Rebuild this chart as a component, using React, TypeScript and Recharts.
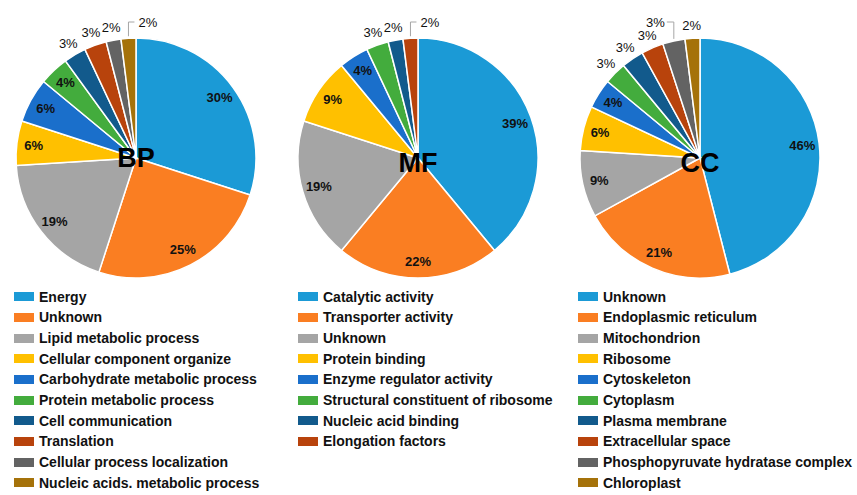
import React from 'react';
import { PieChart, Pie, Cell, Legend } from 'recharts';

const COLORS = ['#1B9AD6', '#FA7E22', '#A5A5A5', '#FFC000', '#1A6FCB', '#43AC3D', '#125A8C', '#B8430C', '#636363', '#A5720A'];

const bpNames = [
  'Energy', 'Unknown', 'Lipid metabolic process', 'Cellular component organize', 'Carbohydrate metabolic process',
  'Protein metabolic process', 'Cell communication', 'Translation', 'Cellular process localization', 'Nucleic acids. metabolic process',
];
const bpValues = [30, 25, 19, 6, 6, 4, 3, 3, 2, 2];

const mfNames = [
  'Catalytic activity', 'Transporter activity', 'Unknown', 'Protein binding', 'Enzyme regulator activity',
  'Structural constituent of ribosome', 'Nucleic acid binding', 'Elongation factors',
];
const mfValues = [39, 22, 19, 9, 4, 3, 2, 2];

const ccNames = [
  'Unknown', 'Endoplasmic reticulum', 'Mitochondrion', 'Ribosome', 'Cytoskeleton', 'Cytoplasm',
  'Plasma membrane', 'Extracellular space', 'Phosphopyruvate hydratase complex', 'Chloroplast',
];
const ccValues = [46, 21, 9, 6, 4, 3, 3, 3, 3, 2];

const FONT = '"Liberation Sans", Arial, sans-serif';
const RAD = Math.PI / 180;
const CY = 158;

// label renderer: big slices inside, small ones outside, one slice per pie gets a leader line
const makeLabel = (calloutIndex: number, dir: 'left' | 'right') => (props: any) => {
  const { cx, cy, midAngle, outerRadius, value, index } = props;
  const cos = Math.cos(-midAngle * RAD);
  const sin = Math.sin(-midAngle * RAD);
  if (index === calloutIndex) {
    const sx = cx + outerRadius * cos;
    const sy = cy + outerRadius * sin;
    const topY = cy - outerRadius - 16;
    const ex = dir === 'right' ? sx + 6 : sx - 7;
    return (
      <g>
        <polyline points={`${sx},${sy - 2} ${sx},${topY} ${ex},${topY}`} fill="none" stroke="#A6A6A6" strokeWidth={1} />
        <text x={dir === 'right' ? ex + 4 : ex - 2} y={topY} textAnchor={dir === 'right' ? 'start' : 'end'}
          dominantBaseline="central" fontSize={13} fontFamily={FONT} fill="#111">{`${value}%`}</text>
      </g>
    );
  }
  const inside = value >= 4;
  const r = inside ? outerRadius * 0.86 : outerRadius + 13;
  return (
    <text x={cx + r * cos} y={cy + r * sin} textAnchor="middle" dominantBaseline="central"
      fontSize={13} fontWeight={inside ? 'bold' : 'normal'} fontFamily={FONT} fill="#111">{`${value}%`}</text>
  );
};

const LegendRows = ({ names }: { names: string[] }) => (
  <div style={{ fontFamily: FONT }}>
    {names.map((n, i) => (
      <div key={n} style={{ display: 'flex', alignItems: 'center', height: 20.67 }}>
        <span style={{ width: 20, height: 9, background: COLORS[i], marginRight: 5, flexShrink: 0 }} />
        <span style={{ fontSize: 14, fontWeight: 'bold', color: '#111', whiteSpace: 'nowrap' }}>{n}</span>
      </div>
    ))}
  </div>
);

type PanelProps = {
  title: string; names: string[]; values: number[]; left: number; width: number;
  cx: number; legendX: number; calloutIndex: number; dir: 'left' | 'right'; titleDy: number;
};

const Panel = ({ title, names, values, left, width, cx, legendX, calloutIndex, dir, titleDy }: PanelProps) => {
  const data = names.map((name, i) => ({ name, value: values[i] }));
  return (
    <div style={{ position: 'absolute', left, top: 0, width, height: 495 }}>
      <PieChart width={width} height={495} margin={{ top: 0, right: 0, bottom: 0, left: 0 }}>
        <Pie data={data} dataKey="value" nameKey="name" cx={cx} cy={CY} outerRadius={120}
          startAngle={90} endAngle={-270} stroke="#fff" strokeWidth={1.5}
          label={makeLabel(calloutIndex, dir)} labelLine={false} isAnimationActive={false}>
          {data.map((_, i) => <Cell key={`cell-${i}`} fill={COLORS[i]} />)}
        </Pie>
        <Legend layout="vertical" align="center" verticalAlign="middle"
          wrapperStyle={{ left: legendX, top: 286.5, width: width - legendX }}
          content={() => <LegendRows names={names} />} />
      </PieChart>
      {/* pie title sits on the centre of the pie */}
      <div style={{
        position: 'absolute', left: cx - 50, width: 100, top: CY + titleDy - 13.2, textAlign: 'center',
        fontFamily: FONT, fontSize: 27, fontWeight: 'bold', lineHeight: 1, color: '#000', pointerEvents: 'none',
      }}>{title}</div>
    </div>
  );
};

export default function App() {
  return (
    <div style={{ position: 'absolute', left: 0, top: 0, width: 857, height: 495, background: '#fff', overflow: 'hidden' }}>
      <Panel title="BP" names={bpNames} values={bpValues} left={0} width={285} cx={136} legendX={14} calloutIndex={9} dir="right" titleDy={0} />
      <Panel title="MF" names={mfNames} values={mfValues} left={285} width={285} cx={133} legendX={13} calloutIndex={7} dir="right" titleDy={5} />
      <Panel title="CC" names={ccNames} values={ccValues} left={570} width={287} cx={130} legendX={8} calloutIndex={8} dir="left" titleDy={5} />
    </div>
  );
}
